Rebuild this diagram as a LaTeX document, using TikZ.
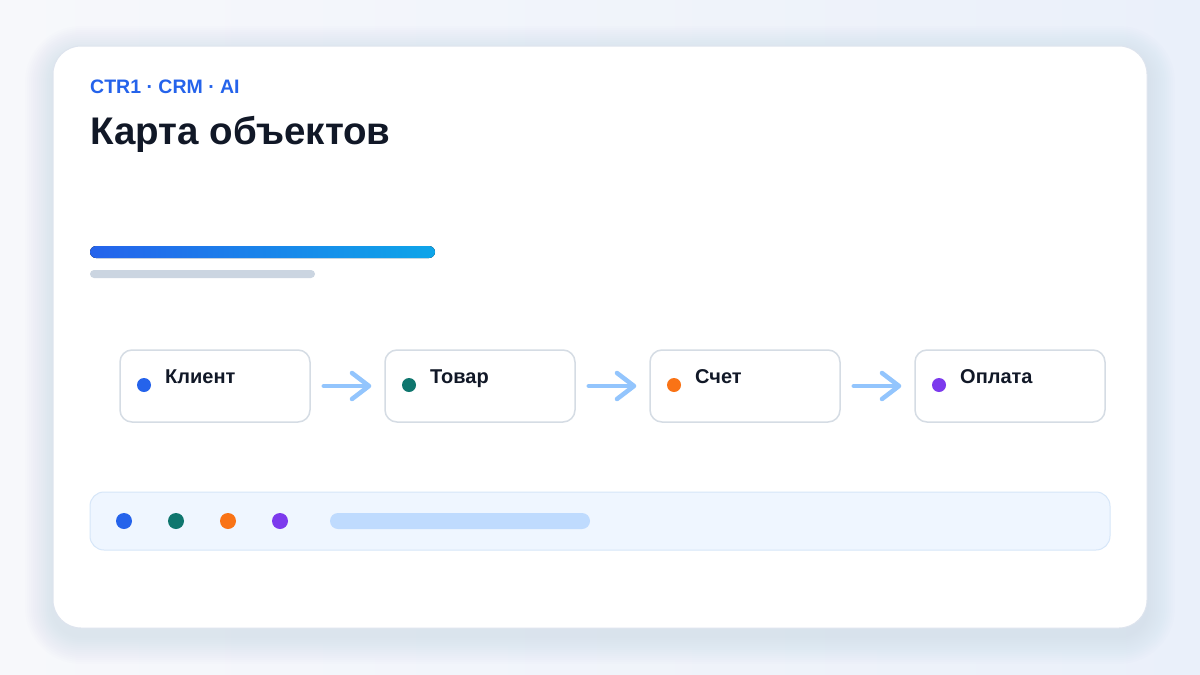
\documentclass[tikz,border=0pt]{standalone}
\usepackage{fontspec}
\setmainfont{Liberation Sans}
\usetikzlibrary{arrows.meta}

\definecolor{pagelight}{HTML}{F7F8FB}
\definecolor{pagebg}{HTML}{EAF0FA}
\definecolor{shadowtint}{HTML}{8A9AB8}
\definecolor{cardline}{HTML}{DEE4EE}
\definecolor{boxline}{HTML}{D5DCE4}
\definecolor{inkdark}{HTML}{111827}
\definecolor{brandblue}{HTML}{2563EB}
\definecolor{skyblue}{HTML}{0EA5E9}
\definecolor{teal}{HTML}{0F766E}
\definecolor{orangedot}{HTML}{F97316}
\definecolor{violet}{HTML}{7C3AED}
\definecolor{flowblue}{HTML}{93C5FD}
\definecolor{pillblue}{HTML}{BFDBFE}
\definecolor{barfill}{HTML}{EFF6FF}
\definecolor{barline}{HTML}{D6E6F8}
\definecolor{muted}{HTML}{CBD5E1}

\tikzset{
  objbox/.style={draw=boxline, line width=1.5pt, fill=white, rounded corners=12pt,
    minimum width=190pt, minimum height=72pt, inner sep=0pt},
  objdot/.style={circle, fill=#1, minimum size=14pt, inner sep=0pt},
  objlabel/.style={anchor=base west, inner sep=0pt, text=inkdark,
    font=\fontsize{20}{24}\selectfont\bfseries},
  flow/.style={draw=flowblue, line width=4.5pt, line cap=round,
    -{Straight Barb[length=17pt, width=26pt, line cap=round, line join=round]},
    shorten <=13pt, shorten >=13pt},
  legdot/.style={circle, fill=#1, minimum size=16pt, inner sep=0pt}
}

\begin{document}
\begin{tikzpicture}[x=1pt, y=-1pt]
  \useasboundingbox (0,0) rectangle (1200,675);
  % page and card
  \shade[left color=pagelight, right color=pagebg] (0,0) rectangle (1200,675);
  \foreach \s [evaluate=\s as \r using 28+2*\s] in {1,...,14}
    \fill[shadowtint, opacity=0.012, rounded corners=\r pt]
      ({53-2*\s},{54-2*\s}) rectangle ({1147+2*\s},{636+2*\s});
  \fill[white, draw=cardline, line width=1pt, rounded corners=28pt]
    (53,46) rectangle (1147,628);

  % heading
  \node (tag) at (90,93) [anchor=base west, inner sep=0pt, text=brandblue,
    font=\fontsize{19.5}{22}\selectfont\bfseries] {CTR1 · CRM · AI};
  \node (title) at (90,144) [anchor=base west, inner sep=0pt, text=inkdark,
    font=\fontsize{38.5}{44}\selectfont\bfseries] {Карта объектов};

  % progress bars
  \fill[left color=brandblue, right color=skyblue, rounded corners=6pt] (90,246) rectangle (435,258);
  \fill[muted, rounded corners=4pt] (90,270) rectangle (315,278);

  % object chain
  \node (klient) at (215,386) [objbox] {};
  \node (tovar) at (480,386) [objbox] {};
  \node (schet) at (745,386) [objbox] {};
  \node (oplata) at (1010,386) [objbox] {};

  \node (klientdot) at (144,385) [objdot=brandblue] {};
  \node (tovardot) at (409,385) [objdot=teal] {};
  \node (schetdot) at (674,385) [objdot=orangedot] {};
  \node (oplatadot) at (939,385) [objdot=violet] {};

  \node (klienttxt) at (165,383) [objlabel] {Клиент};
  \node (tovartxt) at (430,383) [objlabel] {Товар};
  \node (schettxt) at (695,383) [objlabel] {Счет};
  \node (oplatatxt) at (960,383) [objlabel] {Оплата};

  \draw[flow] (klient.east) -- (tovar.west);
  \draw[flow] (tovar.east) -- (schet.west);
  \draw[flow] (schet.east) -- (oplata.west);

  % legend strip
  \node (legend) at (600,521) [draw=barline, line width=1pt, fill=barfill, rounded corners=14pt,
    minimum width=1020pt, minimum height=58pt, inner sep=0pt] {};
  \node (leg1) at (124,521) [legdot=brandblue] {};
  \node (leg2) at (176,521) [legdot=teal] {};
  \node (leg3) at (228,521) [legdot=orangedot] {};
  \node (leg4) at (280,521) [legdot=violet] {};
  \fill[pillblue, rounded corners=8pt] (330,513) rectangle (590,529);
\end{tikzpicture}
\end{document}
